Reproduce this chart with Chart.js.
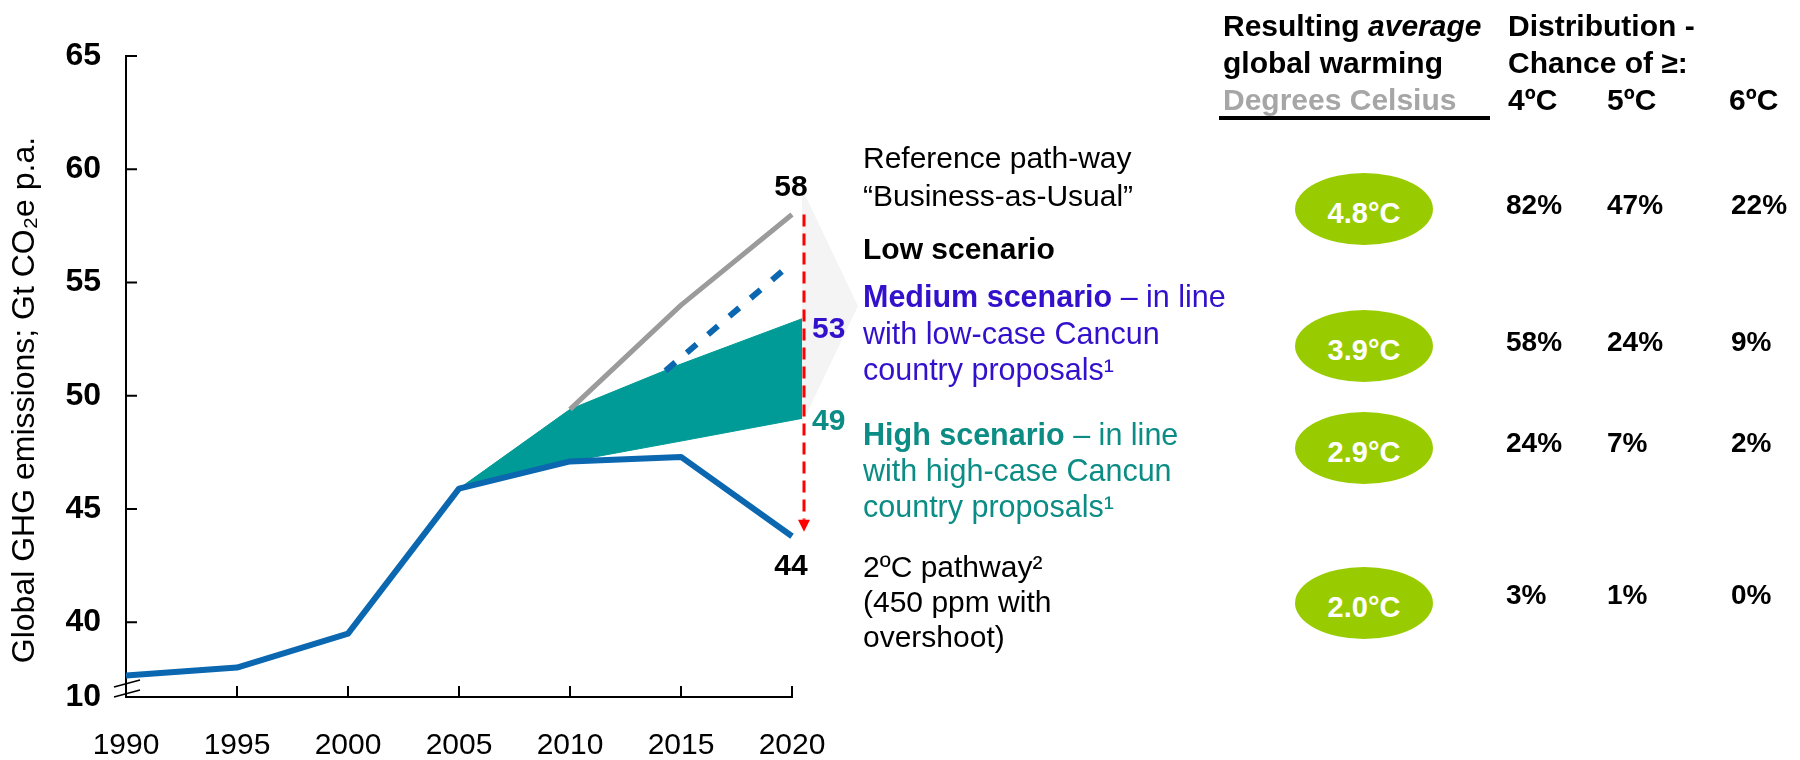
<!DOCTYPE html>
<html>
<head>
<meta charset="utf-8">
<title>Global GHG emissions pathways</title>
<script src="https://cdn.jsdelivr.net/npm/chart.js@4.4.1/dist/chart.umd.min.js"></script>
<style>
  body { margin: 0; background: #fff; }
  #page { position: relative; width: 1800px; height: 760px; overflow: hidden;
          font-family: 'Liberation Sans', Arial, sans-serif; color: #000; }
  #canvasChart { position: absolute; left: 0; top: 0; }
  .t { position: absolute; font-size: 30px; line-height: 36px; white-space: nowrap; }
  .b { font-weight: bold; }
  .medium { color: #3311cc; }
  .high { color: #0b8c84; }
  .grey { color: #a6a6a6; }
  .rule { position: absolute; left: 1219px; top: 116px; width: 271px; height: 4px; background: #000; }
  .oval { position: absolute; width: 138px; height: 72px; border-radius: 50%; background: #99cc00; color: #fff;
          font-weight: bold; font-size: 29px; line-height: 34px; display: flex; align-items: center;
          justify-content: center; box-sizing: border-box; padding-top: 8px; }
  .pct { position: absolute; font-weight: bold; font-size: 28px; line-height: 34px; white-space: nowrap; }
</style>
</head>
<body>
<div id="page">
  <canvas id="canvasChart" width="1800" height="760"></canvas>

  <div class="t b" style="left:1223px; top:7px; line-height:37px;">Resulting <i>average</i><br>global warming<br><span class="grey">Degrees Celsius</span></div>
  <div class="rule"></div>
  <div class="t b" style="left:1508px; top:7px; line-height:37px;">Distribution -<br>Chance of ≥:</div>
  <div class="t b" style="left:1508px; top:81px; line-height:37px;">4ºC</div>
  <div class="t b" style="left:1607px; top:81px; line-height:37px;">5ºC</div>
  <div class="t b" style="left:1729px; top:81px; line-height:37px;">6ºC</div>

  <div class="t" style="left:863px; top:139px; line-height:38px;">Reference path-way<br>“Business-as-Usual”</div>
  <div class="t b" style="left:863px; top:231px;">Low scenario</div>
  <div class="t medium" style="left:863px; top:278px; line-height:36.5px; font-size:30.5px;"><b>Medium scenario</b> – in line<br>with low-case Cancun<br>country proposals¹</div>
  <div class="t high" style="left:863px; top:416px; font-size:30.5px;"><b>High scenario</b> – in line<br>with high-case Cancun<br>country proposals¹</div>
  <div class="t" style="left:863px; top:549px; line-height:35px;">2ºC pathway²<br>(450 ppm with<br>overshoot)</div>
</div>

<script>
// historic + 2C pathway (solid blue)
var years = [1990, 1995, 2000, 2005, 2010, 2015, 2020];
var pathway2C = [37.65, 38.0, 39.5, 45.9, 47.1, 47.3, 43.8];

// reference "business as usual" (grey)
var bauYears = [2010, 2015, 2020];
var bau = [49.4, 54.0, 58.0];

// medium / high scenario band (teal)
var bandYears = [2005, 2010, 2015, 2020.45];
var bandTop = [45.9, 49.4, 51.4, 53.4];
var bandBottom = [45.9, 47.1, 48.0, 49.0];

// low scenario (dashed blue)
var lowYears = [2014.3, 2019.8];
var lowScenario = [51.1, 55.7];

// axis
var yTicks = [40, 45, 50, 55, 60, 65];
var yBreak = 36.7;
var breakLabel = '10';
var yTitle = 'Global GHG emissions; Gt CO₂e p.a.';

// right hand table
var warming = ['4.8°C', '3.9°C', '2.9°C', '2.0°C'];
var chance4 = ['82%', '58%', '24%', '3%'];
var chance5 = ['47%', '24%', '7%', '1%'];
var chance6 = ['22%', '9%', '2%', '0%'];

var BLUE = '#0a67b0';
var TEAL = '#009b96';
var FONT = "'Liberation Sans', Arial, sans-serif";

function buildTable() {
  var page = document.getElementById('page');
  var ovalY = [209, 346, 448, 603];
  var rowY = [205, 342, 443, 595];
  var colX = [1506, 1607, 1731];

  warming.forEach(function (w, i) {
    var el = document.createElement('div');
    el.className = 'oval';
    el.style.left = (1364 - 69) + 'px';
    el.style.top = (ovalY[i] - 36) + 'px';
    el.textContent = w;
    page.appendChild(el);

    [chance4, chance5, chance6].forEach(function (col, c) {
      var p = document.createElement('div');
      p.className = 'pct';
      p.style.left = colX[c] + 'px';
      p.style.top = (rowY[i] - 17) + 'px';
      p.textContent = col[i];
      page.appendChild(p);
    });
  });
}

function pts(xs, ys) {
  return xs.map(function (x, i) { return { x: x, y: ys[i] }; });
}

function last(arr) { return arr[arr.length - 1]; }

var decor = {
  id: 'decor',
  beforeDatasetsDraw: function (chart) {
    var ctx = chart.ctx, x = chart.scales.x, y = chart.scales.y;
    var area = chart.chartArea;

    // faint chevron behind the 2020 values
    var endX = x.getPixelForValue(last(bandYears));
    var top = y.getPixelForValue(last(bau)) - 26;
    var bottom = y.getPixelForValue(last(bandBottom)) + 5;
    ctx.save();
    ctx.fillStyle = '#f4f4f4';
    ctx.beginPath();
    ctx.moveTo(endX, top);
    ctx.lineTo(endX + 56, (top + bottom) / 2);
    ctx.lineTo(endX, bottom);
    ctx.closePath();
    ctx.fill();

    // x axis line and inward tick marks
    var x0 = x.getPixelForValue(years[0]);
    var x1 = x.getPixelForValue(last(years));
    var yb = area.bottom;
    ctx.strokeStyle = '#000';
    ctx.lineWidth = 2;
    ctx.beginPath();
    ctx.moveTo(x0 - 1, yb);
    ctx.lineTo(x1 + 1, yb);
    x.ticks.forEach(function (t, i) {
      if (i === 0) return;
      var px = x.getPixelForValue(t.value);
      ctx.moveTo(px, yb);
      ctx.lineTo(px, yb - 11);
    });
    yTicks.forEach(function (v) {
      var py = y.getPixelForValue(v);
      ctx.moveTo(x0, py);
      ctx.lineTo(x0 + 11, py);
    });
    ctx.stroke();

    // axis break
    ctx.lineWidth = 1.5;
    ctx.beginPath();
    ctx.moveTo(x0 - 12, yb - 10);
    ctx.lineTo(x0 + 14, yb - 17);
    ctx.moveTo(x0 - 12, yb);
    ctx.lineTo(x0 + 14, yb - 7);
    ctx.stroke();

    // y axis title, rotated
    ctx.translate(25, 400);
    ctx.rotate(-Math.PI / 2);
    ctx.font = '32px ' + FONT;
    ctx.fillStyle = '#000';
    ctx.textAlign = 'center';
    ctx.textBaseline = 'middle';
    ctx.fillText(yTitle, 0, 0);
    ctx.restore();
  },
  afterDatasetsDraw: function (chart) {
    var ctx = chart.ctx, x = chart.scales.x, y = chart.scales.y;
    var x2020 = x.getPixelForValue(last(years));
    var ax = x2020 + 12;
    var aTop = y.getPixelForValue(last(bau));
    var aTip = y.getPixelForValue(Math.round(last(pathway2C)));

    ctx.save();
    ctx.strokeStyle = '#ff0000';
    ctx.lineWidth = 3;
    ctx.setLineDash([12, 7]);
    ctx.beginPath();
    ctx.moveTo(ax, aTop);
    ctx.lineTo(ax, aTip - 12);
    ctx.stroke();
    ctx.setLineDash([]);
    ctx.fillStyle = '#ff0000';
    ctx.beginPath();
    ctx.moveTo(ax - 6, aTip - 12);
    ctx.lineTo(ax + 6, aTip - 12);
    ctx.lineTo(ax, aTip);
    ctx.closePath();
    ctx.fill();

    ctx.font = 'bold 30px ' + FONT;
    ctx.textBaseline = 'middle';
    ctx.textAlign = 'center';
    ctx.fillStyle = '#000';
    ctx.fillText(String(Math.round(last(bau))), x2020 - 1, y.getPixelForValue(last(bau)) - 27);
    ctx.fillText(String(Math.round(last(pathway2C))), x2020 - 1, y.getPixelForValue(Math.round(last(pathway2C))) + 35);

    ctx.textAlign = 'left';
    ctx.fillStyle = '#3311cc';
    ctx.fillText(String(Math.round(last(bandTop))), ax + 8, y.getPixelForValue(Math.round(last(bandTop))) + 2);
    ctx.fillStyle = '#0b8c84';
    ctx.fillText(String(Math.round(last(bandBottom))), ax + 8, y.getPixelForValue(Math.round(last(bandBottom))) + 3);
    ctx.restore();
  }
};

function renderChart() {
  var canvas = document.getElementById('canvasChart');
  var chart = new Chart(canvas, {
    type: 'line',
    data: {
      datasets: [
        {
          label: '2ºC pathway',
          data: pts(years, pathway2C),
          borderColor: BLUE,
          borderWidth: 6,
          order: 0
        },
        {
          label: 'Low scenario',
          data: pts(lowYears, lowScenario),
          borderColor: BLUE,
          borderWidth: 6,
          borderDash: [13, 15],
          order: 1
        },
        {
          label: 'Reference path-way',
          data: pts(bauYears, bau),
          borderColor: '#9b9b9b',
          borderWidth: 5,
          order: 1
        },
        {
          label: 'Medium scenario',
          data: pts(bandYears, bandTop),
          borderColor: TEAL,
          borderWidth: 1,
          backgroundColor: TEAL,
          fill: '+1',
          order: 2
        },
        {
          label: 'High scenario',
          data: pts(bandYears, bandBottom),
          borderColor: TEAL,
          borderWidth: 1,
          fill: false,
          order: 2
        }
      ]
    },
    options: {
      responsive: false,
      animation: false,
      events: [],
      layout: { padding: { top: 56, right: 998, left: 0, bottom: 0 } },
      elements: {
        point: { radius: 0 },
        line: { tension: 0, borderJoinStyle: 'round', fill: false }
      },
      plugins: {
        legend: { display: false },
        tooltip: { enabled: false }
      },
      scales: {
        x: {
          type: 'linear',
          min: years[0],
          max: last(bandYears),
          afterBuildTicks: function (s) {
            s.ticks = years.map(function (v) { return { value: v }; });
          },
          afterFit: function (s) { s.height = 63; },
          grid: { display: false, drawTicks: false },
          border: { display: false },
          ticks: {
            autoSkip: false,
            maxRotation: 0,
            padding: 31,
            color: '#000',
            font: { family: FONT, size: 30 },
            callback: function (v) { return String(v); }
          }
        },
        y: {
          min: yBreak,
          max: 65,
          afterBuildTicks: function (s) {
            s.ticks = [yBreak].concat(yTicks).map(function (v) { return { value: v }; });
          },
          afterFit: function (s) { s.width = 126; },
          grid: { display: false, drawTicks: false },
          border: { display: true, color: '#000', width: 2 },
          ticks: {
            autoSkip: false,
            padding: 25,
            color: '#000',
            font: { family: FONT, size: 32, weight: 'bold' },
            callback: function (v) { return v === yBreak ? breakLabel : String(v); }
          },
          title: { display: false }
        }
      }
    },
    plugins: [decor]
  });
}

buildTable();
renderChart();
</script>
</body>
</html>
